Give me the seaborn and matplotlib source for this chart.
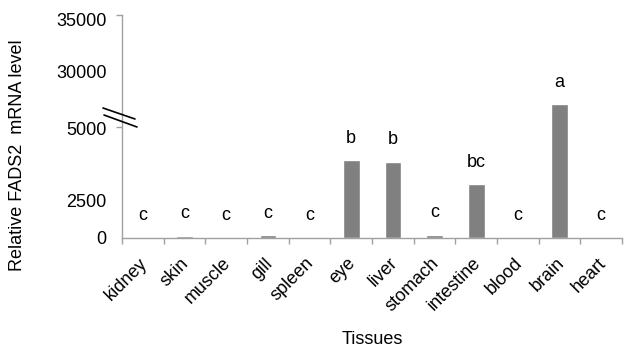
import matplotlib
matplotlib.use("Agg")
import matplotlib.pyplot as plt
import seaborn as sns
import pandas as pd
from matplotlib.lines import Line2D
from matplotlib.transforms import ScaledTranslation

sns.set_style("white")
plt.rcParams['font.family'] = ['Liberation Sans', 'DejaVu Sans']
plt.rcParams['text.color'] = 'black'
plt.rcParams['xtick.color'] = 'black'
plt.rcParams['ytick.color'] = 'black'
plt.rcParams['axes.labelcolor'] = 'black'

tissues = ["kidney", "skin", "muscle", "gill", "spleen", "eye", "liver",
           "stomach", "intestine", "blood", "brain", "heart"]
# bar heights in plotted axis units (axis drawn 0..10000, labels relabelled)
values = [0, 90, 0, 120, 0, 3480, 3410, 135, 2400, 0, 6000, 0]
letters = ["c", "c", "c", "c", "c", "b", "b", "c", "bc", "c", "a", "c"]
ytick_pos = [0, 1667, 4910, 7480, 9820]
ytick_labels = ["0", "2500", "5000", "30000", "35000"]

FS = 13
df = pd.DataFrame({"tissue": tissues, "value": values})

fig = plt.figure(figsize=(6.35, 3.5), dpi=100)
ax = fig.add_axes([122/635, 1-238/350, 500/635, 223/350])
sns.barplot(data=df, x="tissue", y="value", color="#808080", saturation=1,
            width=0.4, ax=ax)
ax.set_ylim(0, 10000)
ax.set_xlim(-0.5, len(tissues) - 0.5)

for sp in ["top", "right"]:
    ax.spines[sp].set_visible(False)
for sp in ["left", "bottom"]:
    ax.spines[sp].set_color("#A0A0A0")
    ax.spines[sp].set_linewidth(1.0)

# major ticks: labels only
ax.set_yticks(ytick_pos)
ax.set_yticklabels(ytick_labels, fontsize=FS)
ax.tick_params(axis="y", which="major", left=True, length=0, pad=11)
# minor ticks: marks at 0, 5000, 10000
ax.set_yticks([0, 5000, 10000], minor=True)
ax.tick_params(axis="y", which="minor", left=True, length=4, width=1,
               color="#A0A0A0", direction="out")

# x ticks at category boundaries
ax.set_xticks([i - 0.5 for i in range(len(tissues) + 1)], minor=True)
ax.tick_params(axis="x", which="minor", bottom=True, length=4, width=1,
               color="#A0A0A0", direction="out")
ax.set_xticks(range(len(tissues)))
ax.tick_params(axis="x", which="major", bottom=True, length=0, pad=12)
ax.set_xticklabels(tissues, rotation=45, ha="right", rotation_mode="anchor",
                   fontsize=FS)
for lbl in ax.get_xticklabels():
    lbl.set_transform(lbl.get_transform() + ScaledTranslation(-4/100, 0, fig.dpi_scale_trans))

for i, (v, t) in enumerate(zip(values, letters)):
    ax.annotate(t, (i, v), xytext=(0, 22), textcoords="offset pixels",
                ha="center", va="center", fontsize=FS)

ax.set_xlabel("Tissues", fontsize=FS)
ax.set_ylabel("Relative FADS2  mRNA level", fontsize=FS)
ax.xaxis.set_label_coords(0.5, (238-331)/223)
ax.yaxis.set_label_coords((26-122)/500, (238-155)/223)

# axis break marks
fig.add_artist(Line2D([103/635, 135/635], [1-108/350, 1-119/350], color="black", lw=1.2))
fig.add_artist(Line2D([104/635, 137/635], [1-115/350, 1-127/350], color="black", lw=1.2))

fig.savefig("out.png", dpi=100)
